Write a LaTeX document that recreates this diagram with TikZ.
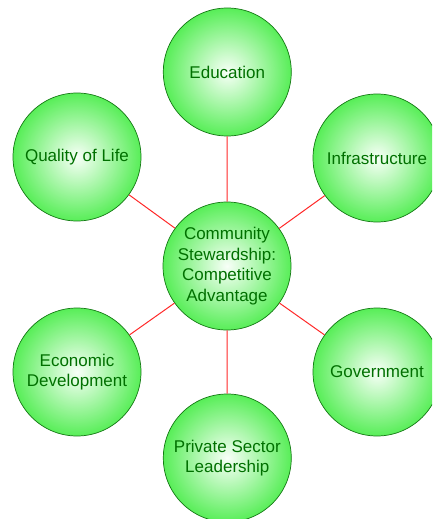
\documentclass[tikz,border=0pt]{standalone}
\usepackage{fontspec}
\setmainfont{Liberation Sans}
\definecolor{ballout}{RGB}{88,238,88}
\definecolor{ballin}{RGB}{248,255,248}
\definecolor{balledge}{RGB}{20,120,20}
\definecolor{balltext}{RGB}{0,112,0}
\definecolor{linkred}{RGB}{255,40,40}
\begin{document}
\begin{tikzpicture}[x=1pt,y=-1pt,
  ball/.style={circle, minimum size=128pt, inner sep=0pt, draw=balledge, line width=0.7pt,
    shading=radial, inner color=ballin, outer color=ballout, text=balltext, align=center,
    font=\fontsize{17}{20.5}\selectfont},
  link/.style={draw=linkred, line width=1pt}]
\useasboundingbox (0,0) rectangle (432,519);
\clip (0,0) rectangle (432,519);
\node[ball] (c) at (227,266) {Community\\Stewardship:\\Competitive\\Advantage};
\node[ball] (edu) at (227.3,72) {Education};
\node[ball] (qol) at (77,157) {Quality of Life};
\node[ball] (inf) at (377,158) {Infrastructure};
\node[ball] (gov) at (377,372) {Government};
\node[ball] (eco) at (77,372) {Economic\\Development};
\node[ball] (psl) at (227.3,458) {Private Sector\\Leadership};
\foreach \o in {edu,qol,inf,gov,eco,psl}{\draw[link] (c) -- (\o);}
\end{tikzpicture}
\end{document}
